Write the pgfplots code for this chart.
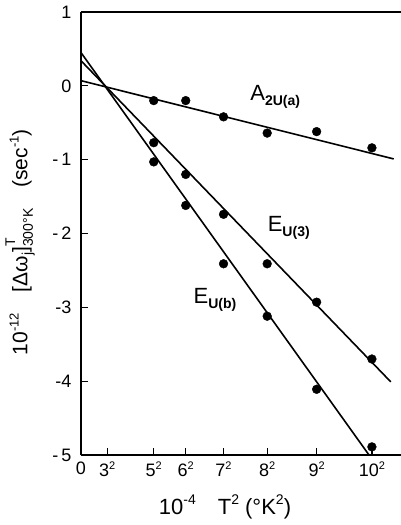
\documentclass[border=0pt]{standalone}
\usepackage{pgfplots}
\pgfplotsset{compat=1.18}
\usepackage{fontspec}
\setmainfont{Liberation Sans}
\newcommand{\sub}[1]{\raisebox{-0.45ex}{\fontsize{14}{14}\selectfont\bfseries #1}}
\newcommand{\sq}{\raisebox{0.75ex}{\fontsize{11}{11}\selectfont 2}}
\begin{document}
\begin{tikzpicture}
\begin{axis}[
  scale only axis,
  width=320pt, height=443pt,
  xmin=0, xmax=110, ymin=-5, ymax=1,
  axis lines=left,
  x axis line style={-, line width=1.4pt},
  y axis line style={-, line width=1.4pt},
  tick align=inside,
  major tick length=7pt,
  tick style={line width=1.2pt, black},
  xtick={0,9,25,36,49,64,81,100},
  xticklabels={0,3\sq,5\sq,6\sq,7\sq,8\sq,9\sq,10\sq},
  ytick={-5,-4,-3,-2,-1,0,1},
  yticklabels={-\,5,-4,-3,-\,2,-\,1,0,1},
  /pgf/number format/assume math mode=true,
  ticklabel style={font=\fontsize{18}{20}\selectfont},
  xticklabel style={yshift=-3pt},
  yticklabel style={xshift=-6pt},
  xlabel={10\raisebox{0.8ex}{\fontsize{14}{14}\selectfont -4}\quad T\raisebox{0.8ex}{\fontsize{14}{14}\selectfont 2} (°K\raisebox{0.8ex}{\fontsize{14}{14}\selectfont 2})},
  ylabel={10\raisebox{0.8ex}{\fontsize{13}{13}\selectfont -12}\quad [Δω\raisebox{-0.4ex}{\fontsize{14}{14}\selectfont j}]\rlap{\raisebox{1.1ex}{\fontsize{14}{14}\selectfont T}}\raisebox{-0.5ex}{\fontsize{14}{14}\selectfont 300°K}\quad (sec\raisebox{0.8ex}{\fontsize{13}{13}\selectfont -1})},
  x label style={at={(axis description cs:0.45,-0.117)}, anchor=center, font=\fontsize{22}{24}\selectfont},
  y label style={at={(axis description cs:-0.19,0.48)}, anchor=center, font=\fontsize{21}{23}\selectfont},
  clip=true,
]
\draw[line width=1.4pt] (rel axis cs:0,1) -- (rel axis cs:1,1);
% fitted lines
\addplot[black, line width=1.6pt] coordinates {(0,0.07) (107.5,-0.99)};
\addplot[black, line width=1.6pt] coordinates {(0,0.34) (106.5,-4.01)};
\addplot[black, line width=1.6pt] coordinates {(0,0.45) (99,-5)};
% data points
\addplot[only marks, mark=*, mark size=4.4pt, black] coordinates {
 (25,-0.20) (36,-0.20) (49,-0.42) (64,-0.64) (81,-0.62) (100,-0.84)};
\addplot[only marks, mark=*, mark size=4.4pt, black] coordinates {
 (25,-0.77) (36,-1.20) (49,-1.74) (64,-2.41) (81,-2.93) (100,-3.70)};
\addplot[only marks, mark=*, mark size=4.4pt, black] coordinates {
 (25,-1.03) (36,-1.62) (49,-2.41) (64,-3.12) (81,-4.11) (100,-4.89)};
\node[anchor=west, font=\fontsize{22}{24}\selectfont] at (axis cs:57,-0.15) {A\sub{2U(a)}};
\node[anchor=west, font=\fontsize{22}{24}\selectfont] at (axis cs:63,-1.92) {E\sub{U(3)}};
\node[anchor=west, font=\fontsize{22}{24}\selectfont] at (axis cs:37.5,-2.9) {E\sub{U(b)}};
\end{axis}
\pgfresetboundingbox
\path[use as bounding box] (-81pt,-70pt) rectangle (320pt,455pt);
\end{tikzpicture}
\end{document}
